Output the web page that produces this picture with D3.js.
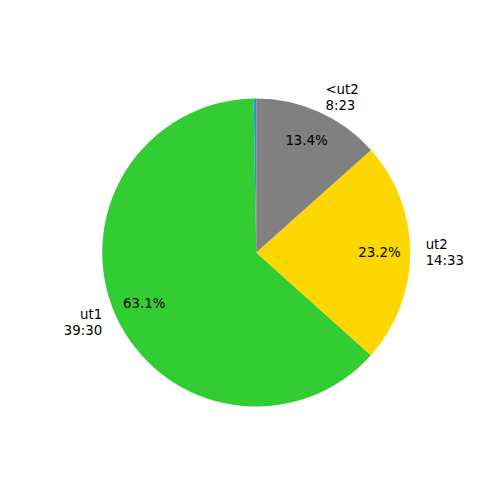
<!DOCTYPE html>
<html><head><meta charset="utf-8">
<script src="https://cdn.jsdelivr.net/npm/d3@7"></script>
<style>body{margin:0;background:#fff}</style>
</head><body>
<svg id="c" width="500" height="500"></svg>
<script>
const categories = ["", "ut1", "ut2", "<ut2"];
const timeLabels = ["", "39:30", "14:33", "8:23"];
const seconds = [10, 2370, 873, 503];
const colors = ["#1e90ff", "#32cd32", "#ffd700", "#808080"];

const svg = d3.select("#c");
const cx = 256.25, cy = 252.5, r = 154;
const g = svg.append("g").attr("transform", `translate(${cx},${cy})`);
const total = d3.sum(seconds);
// matplotlib: startangle 90, counterclockwise. d3 angles: 0 at top, clockwise.
const pie = d3.pie().sort(null).value(d => d)
  .startAngle(0).endAngle(-2 * Math.PI);
const arcs = pie(seconds);
const arc = d3.arc().innerRadius(0).outerRadius(r);
g.selectAll("path").data(arcs).enter().append("path")
  .attr("d", arc).attr("fill", (d, i) => colors[i]);

const font = "DejaVu Sans, sans-serif";
arcs.forEach((d, i) => {
  const mid = (d.startAngle + d.endAngle) / 2;
  const sx = Math.sin(mid), sy = -Math.cos(mid);
  // percentage
  if (i > 0) {
    g.append("text").attr("x", sx * r * 0.8).attr("y", sy * r * 0.8)
      .attr("text-anchor", "middle").attr("dominant-baseline", "central")
      .attr("font-family", font).attr("font-size", "13.33px")
      .text((seconds[i] / total * 100).toFixed(1) + "%");
  }
  // label
  if (categories[i]) {
    const lx = sx * r * 1.1, ly = sy * r * 1.1;
    const t = g.append("text").attr("x", lx).attr("y", ly)
      .attr("text-anchor", lx > 0 ? "start" : "end")
      .attr("font-family", font).attr("font-size", "13.33px");
    t.append("tspan").attr("x", lx).attr("dy", "-0.6em").attr("dominant-baseline", "central").text(categories[i]);
    t.append("tspan").attr("x", lx).attr("dy", "1.2em").attr("dominant-baseline", "central").text(timeLabels[i]);
  }
});
</script>
</body></html>
